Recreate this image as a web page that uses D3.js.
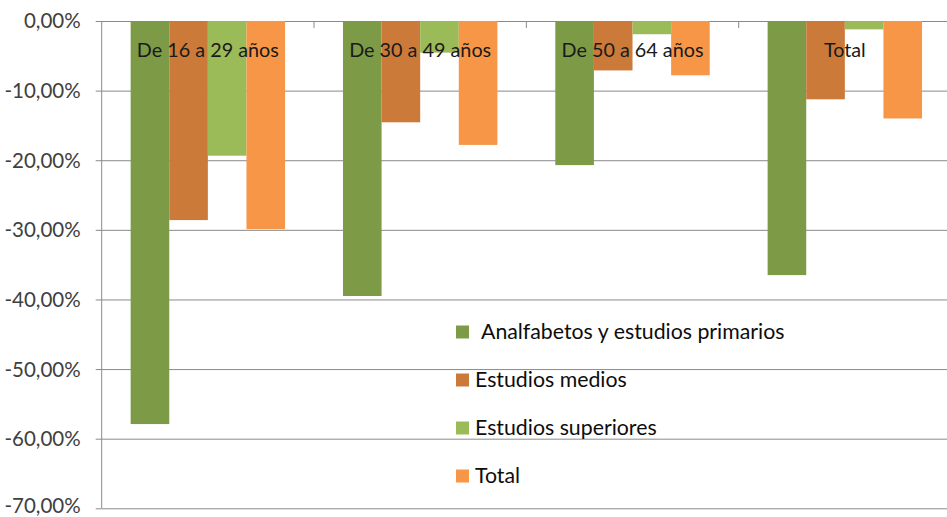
<!DOCTYPE html>
<html>
<head>
<meta charset="utf-8">
<script src="https://cdn.jsdelivr.net/npm/d3@7"></script>
<style>
  html, body { margin: 0; padding: 0; background: #fff; }
  svg { display: block; }
  text { font-family: Lato, "Open Sans", sans-serif; }
</style>
</head>
<body>
<svg id="chart" width="947" height="517"></svg>
<script>
// Age groups and education levels
const categories = ["De 16 a 29 años", "De 30 a 49 años", "De 50 a 64 años", "Total"];
const seriesNames = ["Analfabetos y estudios primarios", "Estudios medios", "Estudios superiores", "Total"];

// Change per group, one array per education level (fractions)
const analfabetosPrimarios = [-0.579, -0.395, -0.207, -0.365];
const estudiosMedios       = [-0.286, -0.1455, -0.071, -0.1125];
const estudiosSuperiores   = [-0.1935, -0.0455, -0.019, -0.012];
const totalSerie           = [-0.299, -0.178, -0.078, -0.140];

const yTicks = [0, -0.1, -0.2, -0.3, -0.4, -0.5, -0.6, -0.7];
const colors = ["#7d9a47", "#cc7a3a", "#9bbb59", "#f79646"];

const seriesValues = [analfabetosPrimarios, estudiosMedios, estudiosSuperiores, totalSerie];

const svg = d3.select("#chart");
const plotLeft = 101.7, plotTop = 21, plotW = 849.3, plotH = 487.3;

const x0 = d3.scaleBand().domain(categories).range([plotLeft, plotLeft + plotW]).padding(0);
const x1 = d3.scaleBand().domain(seriesNames).range([0, x0.bandwidth()])
  .paddingInner(0).paddingOuter(0.75);
const y = d3.scaleLinear().domain([0, -0.7]).range([plotTop, plotTop + plotH]);

const locale = d3.formatLocale({ decimal: ",", thousands: ".", grouping: [3], currency: ["", "€"], minus: "-" });
const fmt = locale.format(".2%");

// Horizontal gridlines
svg.append("g")
  .attr("transform", `translate(${plotLeft},0)`)
  .call(d3.axisLeft(y).tickValues(yTicks).tickSize(-plotW).tickFormat(""))
  .call(g => g.select(".domain").remove())
  .call(g => g.selectAll("line").attr("stroke", "#8a8a8a").attr("stroke-width", 1));

// Bars
const groups = svg.append("g").selectAll("g")
  .data(categories)
  .join("g")
  .attr("transform", c => `translate(${x0(c)},0)`);

groups.selectAll("rect")
  .data((c, ci) => seriesNames.map((s, si) => ({ s, si, v: seriesValues[si][ci] })))
  .join("rect")
  .attr("x", d => x1(d.s))
  .attr("width", x1.bandwidth())
  .attr("y", y(0))
  .attr("height", d => y(d.v) - y(0))
  .attr("fill", d => colors[d.si]);

// Y axis; the bottom label is lifted a little so it stays inside the frame
const lastTick = yTicks[yTicks.length - 1];
svg.append("g")
  .attr("transform", `translate(${plotLeft},0)`)
  .call(d3.axisLeft(y).tickValues(yTicks).tickSize(6).tickPadding(15).tickFormat(fmt))
  .call(g => g.select(".domain").attr("stroke", "#8a8a8a").attr("d", `M0,${y(0)}V${y(lastTick)}`))
  .call(g => g.selectAll("line").attr("stroke", "#8a8a8a"))
  .call(g => g.selectAll("text").attr("fill", "#404040")
    .attr("dy", d => d === lastTick ? "0.2em" : "0.34em")
    .style("font-size", "20.5px").attr("font-family", "Lato, sans-serif"));

// Tick marks between groups along the zero line
svg.append("g").selectAll("line")
  .data(categories.slice(1))
  .join("line")
  .attr("x1", c => x0(c)).attr("x2", c => x0(c))
  .attr("y1", y(0)).attr("y2", y(0) + 7)
  .attr("stroke", "#8a8a8a");

// Category labels
svg.append("g").selectAll("text")
  .data(categories)
  .join("text")
  .attr("x", c => x0(c) + x0.bandwidth() / 2)
  .attr("y", y(0) + 35.5)
  .attr("text-anchor", "middle")
  .attr("fill", "#1a1a1a")
  .style("font-size", "19.8px")
  .text(c => c);

// Legend
const legend = svg.append("g").attr("transform", "translate(456,332)");
const rowH = 48;
const item = legend.selectAll("g")
  .data(seriesNames)
  .join("g")
  .attr("transform", (d, i) => `translate(0,${i * rowH})`);
item.append("rect")
  .attr("x", 0).attr("y", -6.5).attr("width", 13).attr("height", 13)
  .attr("fill", (d, i) => colors[i]);
item.append("text")
  .attr("x", (d, i) => i === 0 ? 25 : 19)
  .attr("y", 0)
  .attr("dy", "0.33em")
  .attr("fill", "#0d0d0d")
  .style("font-size", "21.3px")
  .text(d => d);
</script>
</body>
</html>
